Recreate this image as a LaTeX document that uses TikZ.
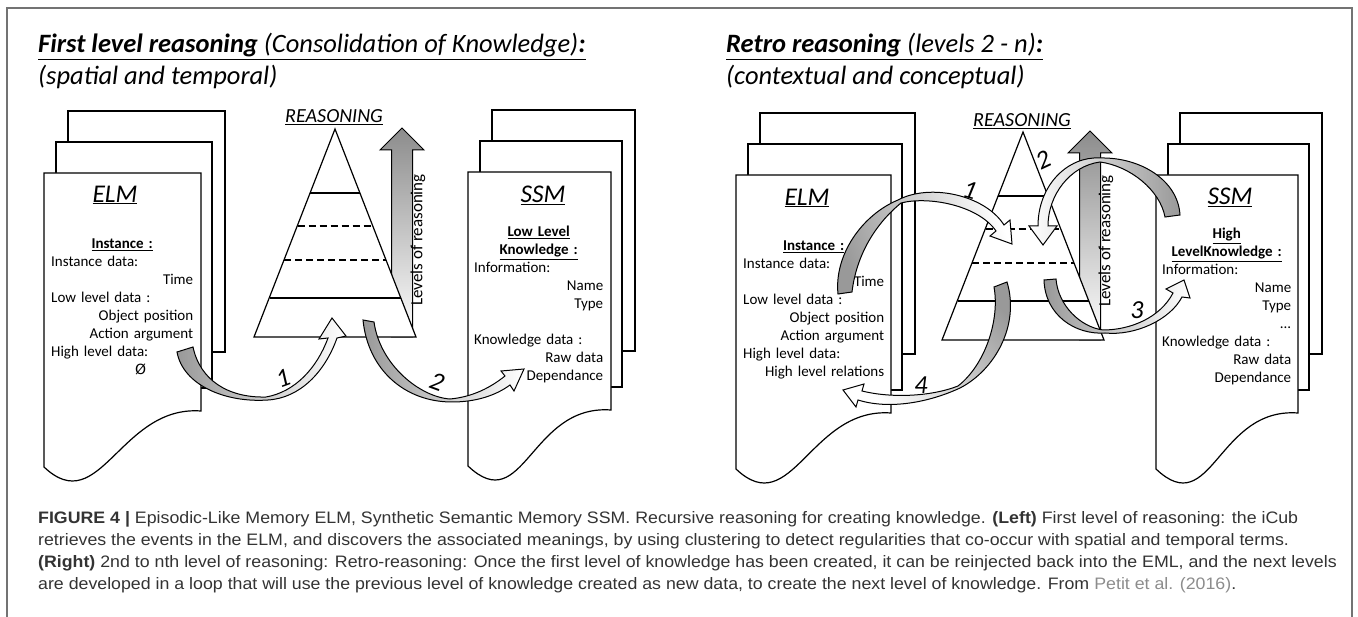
\documentclass[tikz,border=0pt]{standalone}
\usepackage{fontspec}
\setmainfont{Carlito}
\newfontfamily\capfont[FakeStretch=1.07]{Liberation Sans}
\newfontfamily\symfont{DejaVu Sans}
\setlength\parindent{0pt}

% three stacked sheets, the front one with a wavy foot: (x, top, width)
\def\docstack(#1,#2,#3){%
  \draw[sheet] (#1+24,#2-62) rectangle (#1+#3+24,#2+179);
  \draw[sheet] (#1+12,#2-31) rectangle (#1+#3+11,#2+215);
  \draw[sheet] (#1,#2) -- (#1+#3,#2) -- (#1+#3,#2+238)
    .. controls (#1+#3-81,#2+232) and (#1+56,#2+347) .. (#1,#2+294) -- cycle;}
% reasoning pyramid from its apex
\def\pyramid(#1,#2){%
  \draw[sheet] (#1,#2) -- (#1+81,#2+208) -- (#1-81,#2+208) -- cycle;
  \draw[tier] (#1-25,#2+64) -- (#1+25,#2+64);
  \draw[dashtier] (#1-37.5,#2+97) -- (#1+37.5,#2+97);
  \draw[dashtier] (#1-51,#2+131) -- (#1+51,#2+131);
  \draw[tier] (#1-65.5,#2+169) -- (#1+65.5,#2+169);}
% upward block arrow from its tip
\def\levelsarrow(#1,#2){%
  \draw[levels] (#1,#2) -- (#1+22,#2+22) -- (#1+10.5,#2+22) -- (#1+10.5,#2+209)
    -- (#1-10.5,#2+209) -- (#1-10.5,#2+22) -- (#1-22,#2+22) -- cycle;}

\tikzset{
  sheet/.style={draw=black, line width=1.2pt, fill=white},
  tier/.style={line width=1.2pt},
  dashtier/.style={line width=1.2pt, dash pattern=on 7pt off 4pt},
  levels/.style={draw=black, line width=1pt, top color=black!45, bottom color=white},
  band/.style={draw=black, line width=1pt, left color=black!40, right color=white},
  memtext/.style={font=\fontsize{15}{18}\selectfont, inner sep=0pt, text width=#1, align=left, anchor=base west},
  memname/.style={font=\fontsize{25.5}{30}\selectfont\itshape, inner sep=0pt},
  pyrname/.style={font=\fontsize{20}{22}\selectfont\itshape, inner sep=0pt},
  levelname/.style={font=\fontsize{17}{18}\selectfont, inner sep=0pt, rotate=90},
  steplabel/.style={font=\fontsize{26}{28}\selectfont\itshape, inner sep=0pt},
  headline/.style={font=\fontsize{26.5}{28}\selectfont\itshape, inner sep=0pt, anchor=base west},
  capline/.style={font=\capfont\fontsize{16.6}{18}\selectfont, text=black!80, inner sep=0pt, anchor=base west},
}

\begin{document}
\begin{tikzpicture}[x=1pt, y=-1pt]
  %%%%% START %%%%%
  \useasboundingbox (0,0) rectangle (1358,617);
  \draw[black!55, line width=1.5pt] (7,617) -- (7,8) -- (1352,8) -- (1352,617);

  \node[headline] (lefthead) at (38,53) {\underline{\textbf{First level reasoning} (Consolidation of Knowledge)\textbf{:}}};
  \node[headline] (leftsub) at (38,85) {(spatial and temporal)};
  \node[headline] (righthead) at (726,53) {\underline{\textbf{Retro reasoning} (levels 2 - n)\textbf{:}}};
  \node[headline] (rightsub) at (726,85) {(contextual and conceptual)};

  % left: first level
  \docstack(44,173,157)
  \node[memname] (elmA) at (115,195) {\underline{ELM}};
  \node[memtext=142pt] (elmAtext) at (51,249) {\hfill\underline{\textbf{Instance :}}\hfill\null\\
    Instance data:\\ \hfill Time\\ Low level data :\\ \hfill Object position\\ \hfill Action argument\\
    High level data:\\ \hfill\makebox[58pt][l]{\symfont\fontsize{14}{18}\selectfont \O}};

  \docstack(468,172,143)
  \node[memname] (ssmA) at (543,195) {\underline{SSM}};
  \node[memtext=129pt] (ssmAtext) at (474,237) {\hfill\underline{\textbf{Low Level}}\hfill\null\\
    \hfill\underline{\textbf{Knowledge :}}\hfill\null\\ Information:\\ \hfill Name\\ \hfill Type\\ \mbox{}\\
    Knowledge data :\\ \hfill Raw data\\ \hfill Dependance};

  \levelsarrow(402,128)
  \pyramid(335,129)
  \node[pyrname] (reasonA) at (334,117) {\underline{REASONING}};
  \node[levelname] (levelA) at (418,240) {Levels of reasoning};

  \draw[band, shading angle=90] (177,352) .. controls (183,385) and (225,403) .. (268,400)
    .. controls (300,398) and (325,372) .. (337,338) -- (346,336) -- (332,318) -- (319,339) -- (328,338)
    .. controls (317,368) and (295,392) .. (266,397) .. controls (228,398) and (200,380) .. (193,347) -- cycle;
  \draw[band, shading angle=90] (363,320) .. controls (368,370) and (405,402) .. (452,402)
    .. controls (475,402) and (495,396) .. (510,385) -- (514,391) -- (524,369) -- (501,371) -- (505,376)
    .. controls (490,388) and (472,397) .. (450,399) .. controls (420,397) and (380,365) .. (374,322) -- cycle;
  \node[steplabel, rotate=20] (stepA1) at (283,378) {1};
  \node[steplabel, rotate=-20] (stepA2) at (437,382) {2};

  % right: retro reasoning
  \docstack(736,175,155)
  \node[memname] (elmB) at (807,198) {\underline{ELM}};
  \node[memtext=141pt] (elmBtext) at (743,251) {\hfill\underline{\textbf{Instance :}}\hfill\null\\
    Instance data:\\ \hfill Time\\ Low level data :\\ \hfill Object position\\ \hfill Action argument\\
    High level data:\\ \hfill High level relations};

  \docstack(1156,175,142)
  \node[memname] (ssmB) at (1230,197) {\underline{SSM}};
  \node[memtext=129pt] (ssmBtext) at (1162,239) {\hfill\underline{\textbf{High}}\hfill\null\\
    \hfill\underline{\textbf{LevelKnowledge :}}\hfill\null\\ Information:\\ \hfill Name\\ \hfill Type\\ \hfill ...\\
    Knowledge data :\\ \hfill Raw data\\ \hfill Dependance};

  \levelsarrow(1090,131)
  \pyramid(1023,132)
  \node[pyrname] (reasonB) at (1022,121) {\underline{REASONING}};
  \node[levelname] (levelB) at (1106,241) {Levels of reasoning};

  \draw[band, shading angle=110] (838,294) .. controls (834,255) and (862,215) .. (898,200)
    .. controls (930,183) and (985,195) .. (1004,225) -- (1010,220) -- (1012,244) -- (990,236) -- (996,231)
    .. controls (978,205) and (928,196) .. (901,203) .. controls (880,220) and (857,250) .. (852,292) -- cycle;
  \draw[band, shading angle=270] (1180,215) .. controls (1178,180) and (1140,157) .. (1100,158)
    .. controls (1068,156) and (1038,185) .. (1038,226) -- (1029,226) -- (1043,245) -- (1057,226) -- (1048,226)
    .. controls (1048,195) and (1070,166) .. (1100,162) .. controls (1130,166) and (1160,190) .. (1165,217) -- cycle;
  \draw[band, shading angle=90] (1044,280) .. controls (1045,315) and (1075,335) .. (1105,333)
    .. controls (1135,336) and (1170,320) .. (1182,297) -- (1190,298) -- (1184,280) -- (1166,289) -- (1173,293)
    .. controls (1160,318) and (1130,330) .. (1103,330) .. controls (1080,327) and (1058,305) .. (1056,279) -- cycle;
  \draw[band, shading angle=315] (1007,282) .. controls (1020,325) and (995,370) .. (960,388)
    .. controls (930,402) and (890,410) .. (858,400) -- (856,407) -- (843,390) -- (864,384) -- (862,391)
    .. controls (890,398) and (930,397) .. (958,386) .. controls (985,365) and (1000,320) .. (994,287) -- cycle;
  \node[steplabel, rotate=-15] (stepB1) at (970,190) {1};
  \node[steplabel, rotate=25] (stepB2) at (1043,160) {2};
  \node[steplabel] (stepB3) at (1137,310) {3};
  \node[steplabel] (stepB4) at (921,385) {4};

  % caption
  \node[capline] (cap1) at (38,523) {\textbf{FIGURE 4 |} Episodic-Like Memory ELM, Synthetic Semantic Memory SSM. Recursive reasoning for creating knowledge. \textbf{(Left)} First level of reasoning: the iCub};
  \node[capline] (cap2) at (38,545) {retrieves the events in the ELM, and discovers the associated meanings, by using clustering to detect regularities that co-occur with spatial and temporal terms.};
  \node[capline] (cap3) at (38,567) {\textbf{(Right)} 2nd to nth level of reasoning: Retro-reasoning: Once the first level of knowledge has been created, it can be reinjected back into the EML, and the next levels};
  \node[capline] (cap4) at (38,589) {are developed in a loop that will use the previous level of knowledge created as new data, to create the next level of knowledge. From {\color{black!45}Petit et al. (2016)}.};
  %%%%% END %%%%%
\end{tikzpicture}
\end{document}
